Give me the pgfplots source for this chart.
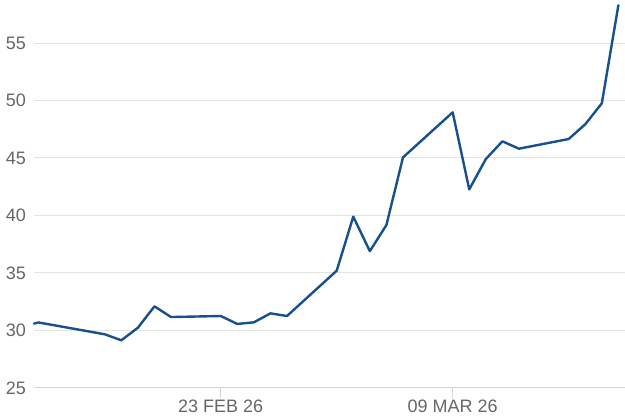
\documentclass[border=0pt]{standalone}
\usepackage{pgfplots}
\pgfplotsset{compat=1.18}
\usepackage{fontspec}
\setmainfont{Liberation Sans}
\definecolor{lineblue}{HTML}{17508D}
\definecolor{labgray}{HTML}{666666}
\definecolor{gridgray}{HTML}{E3E3E3}
\definecolor{axisgray}{HTML}{CDD5DD}
\begin{document}
\begin{tikzpicture}
\begin{axis}[
  scale only axis,
  width=591pt, height=388pt,
  xmin=-11.27, xmax=24.4,
  ymin=25, ymax=58.74,
  axis x line*=bottom,
  axis y line*=left,
  x axis line style={draw=axisgray, line width=1pt},
  y axis line style={draw=none},
  ytick={25,30,35,40,45,50,55},
  xtick={0,14},
  xticklabels={23 FEB 26, 09 MAR 26},
  tick align=outside,
  xtick style={draw=axisgray, line width=1pt},
  major tick length=10pt,
  ymajorgrids,
  grid style={draw=gridgray, line width=1pt},
  ytick style={draw=none},
  tick label style={font=\fontsize{18}{20}\selectfont, text=labgray},
  /pgf/number format/assume math mode=true,
  yticklabel style={anchor=east, inner sep=0pt, xshift=2pt},
  xticklabel style={anchor=north, inner sep=0pt, yshift=-2pt},
  clip=false,
]
\addplot[color=lineblue, line width=2.4pt, line join=round, line cap=round] coordinates {
(-11.27,30.6) (-11,30.7) (-7,29.67) (-6,29.15) (-5,30.24) (-4,32.1) (-3,31.17)
(0,31.26) (1,30.57) (2,30.71) (3,31.49) (4,31.26)
(7,35.2) (8,39.9) (9,36.9) (10,39.17) (11,45.05)
(14,48.97) (15,42.27) (16,44.91) (17,46.45) (18,45.81)
(21,46.65) (22,47.93) (23,49.75) (24,58.28)
};
\end{axis}
\pgfresetboundingbox
\path[use as bounding box] (current axis.south west) ++(-34pt,-29pt) rectangle (current axis.north east);
\end{tikzpicture}
\end{document}
